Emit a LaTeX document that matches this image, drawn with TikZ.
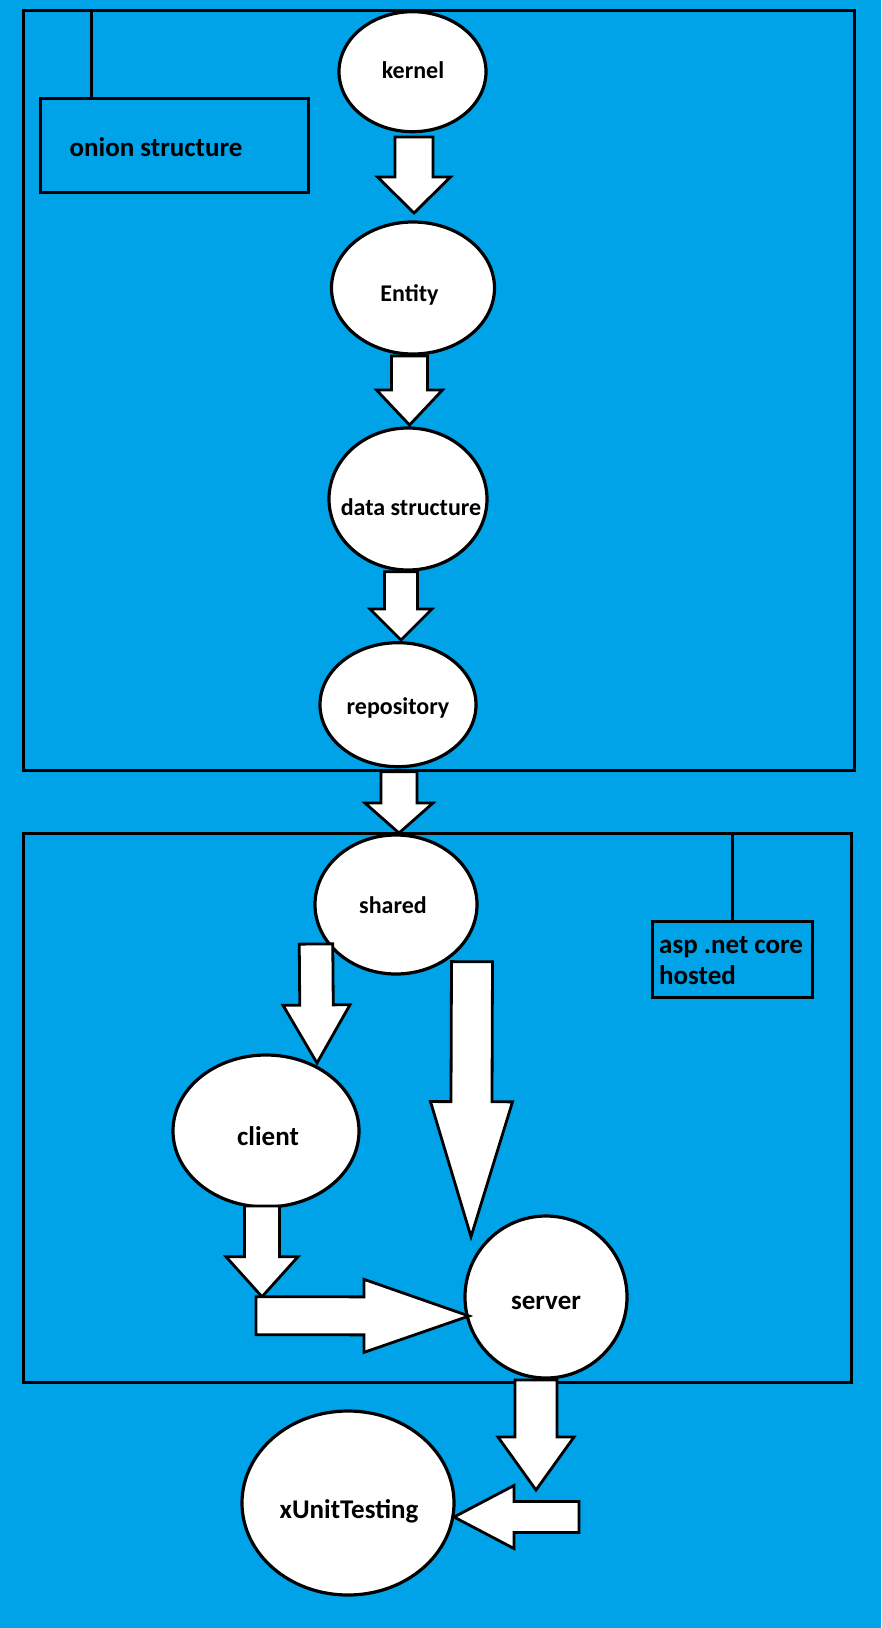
\documentclass[tikz,border=0pt]{standalone}
\usepackage{fontspec}
\setmainfont{Carlito}
\usetikzlibrary{calc,shapes.geometric}
\definecolor{paintblue}{RGB}{0,162,232}
\tikzset{
  bubble/.style={ellipse, draw=black, fill=white, line width=3.2pt, inner sep=0pt},
  smalltxt/.style={inner sep=0pt, anchor=base, font=\bfseries\fontsize{24}{28}\selectfont},
  bigtxt/.style={inner sep=0pt, anchor=base, font=\bfseries\fontsize{27}{30.7}\selectfont},
  frame/.style={rectangle, draw=black, line width=3pt, inner sep=0pt, outer sep=0pt},
  tick/.style={draw=black, line width=3pt},
  barrow/.style={draw=black, fill=white, line width=2.8pt, line join=miter},
}
% block arrow: #1 start, #2 tip, #3 shaft half width, #4 head half width, #5 head length
\newcommand{\blockarr}[5]{%
  \coordinate (babase) at ($(#2)!#5!(#1)$);
  \draw[barrow] ($(#1)!#3!90:(#2)$) -- ($(babase)!#3!90:(#2)$) -- ($(babase)!#4!90:(#2)$) -- (#2)
    -- ($(babase)!#4!-90:(#2)$) -- ($(babase)!#3!-90:(#2)$) -- ($(#1)!#3!-90:(#2)$) -- cycle;}
\begin{document}
\begin{tikzpicture}[x=1pt,y=-1pt]
\useasboundingbox (0,0) rectangle (881,1628);
\fill[paintblue] (0,0) rectangle (881,1628);

% frames
\node[frame, minimum width=830.4pt, minimum height=760pt] (outer1) at (438.8,390) {};
\node[frame, minimum width=827.4pt, minimum height=549pt] (outer2) at (437.3,1107.5) {};
\node[frame, minimum width=268pt, minimum height=93.6pt] (label1) at (174.5,145.5) {};
\node[bigtxt, anchor=base west] (label1-t) at ($(label1.west)+(29,11.2)$) {onion structure};
\coordinate (t1) at ($(label1.north west)+(50.5,0)$);
\draw[tick] (t1) -- (t1 |- outer1.north);
\node[frame, minimum width=160pt, minimum height=76.7pt] (label2) at (732,959.35) {};
\node[bigtxt, anchor=base west, align=left] (label2-t) at ($(label2.west)+(7,24.7)$) {asp .net core\\hosted};
\draw[tick] (label2.north) -- (label2.north |- outer2.north);

% bubbles
\node[bubble, minimum width=147pt, minimum height=120pt] (kernel) at (412.5,71.7) {};
\node[smalltxt] (kernel-t) at ($(kernel)+(0.5,6.6)$) {kernel};
\node[bubble, minimum width=163pt, minimum height=132pt] (entity) at (413,288) {};
\node[smalltxt] (entity-t) at ($(entity)+(-3.5,13.7)$) {Entity};
\node[bubble, minimum width=158pt, minimum height=142pt] (datastr) at (408,499) {};
\node[smalltxt] (datastr-t) at ($(datastr)+(3,16)$) {data structure};
\node[bubble, minimum width=156pt, minimum height=124pt] (repo) at (398,704.7) {};
\node[smalltxt] (repo-t) at ($(repo)+(0,9.3)$) {repository};
\node[bubble, minimum width=162pt, minimum height=139pt] (shared) at (396,904.5) {};
\node[smalltxt] (shared-t) at ($(shared)+(-3,8.8)$) {shared};
\node[bubble, minimum width=186pt, minimum height=152pt] (client) at (266,1131) {};
\node[bigtxt] (client-t) at ($(client)+(2,14)$) {client};
\node[bubble, minimum width=162pt, minimum height=162pt] (server) at (546,1297) {};
\node[bigtxt] (server-t) at ($(server)+(0,12)$) {server};
\node[bubble, minimum width=212pt, minimum height=184pt] (xunit) at (348,1503) {};
\node[bigtxt] (xunit-t) at ($(xunit)+(1,15.8)$) {xUnitTesting};

% block arrows
\coordinate (a1s) at ($(kernel)+(1.5,65.3)$);
\coordinate (a1t) at ($(entity)+(1,-75)$);
\blockarr{a1s}{a1t}{19pt}{36.5pt}{36pt}
\coordinate (a2s) at ($(entity)+(-3.5,68)$);
\coordinate (a2t) at ($(datastr)+(1.5,-74)$);
\blockarr{a2s}{a2t}{18pt}{33pt}{35pt}
\coordinate (a3s) at ($(datastr)+(-7,72.7)$);
\coordinate (a3t) at ($(repo)+(3,-64.7)$);
\blockarr{a3s}{a3t}{16.5pt}{31pt}{31pt}
\coordinate (a4s) at ($(repo)+(1,67)$);
\coordinate (a4t) at ($(shared)+(3,-71.5)$);
\blockarr{a4s}{a4t}{18pt}{34pt}{30pt}
\coordinate (a5s) at ($(shared)+(-80,39.5)$);
\coordinate (a5t) at ($(client)+(51,-68)$);
\blockarr{a5s}{a5t}{16.75pt}{33.5pt}{58pt}
\coordinate (a6s) at ($(shared)+(76,57.2)$);
\coordinate (a6t) at ($(server)+(-75,-60.3)$);
\blockarr{a6s}{a6t}{20.5pt}{41pt}{135pt}
\coordinate (a7s) at ($(client)+(-4,75)$);
\coordinate (j1) at ($(client)+(-4,165.7)$);
\blockarr{a7s}{j1}{17.5pt}{36pt}{40pt}
\coordinate (j2) at ($(j1)+(-6,19)$);
\coordinate (a8t) at ($(server)+(-77,19)$);
\blockarr{j2}{a8t}{19pt}{36.5pt}{105pt}
\coordinate (a9s) at ($(server)+(-10,83)$);
\coordinate (j3) at ($(server)+(-10,193)$);
\blockarr{a9s}{j3}{21pt}{38pt}{53pt}
\coordinate (j4) at ($(j3)+(43,27)$);
\coordinate (a10t) at ($(xunit)+(106,14)$);
\blockarr{j4}{a10t}{15.5pt}{31.5pt}{60pt}
\end{tikzpicture}
\end{document}
